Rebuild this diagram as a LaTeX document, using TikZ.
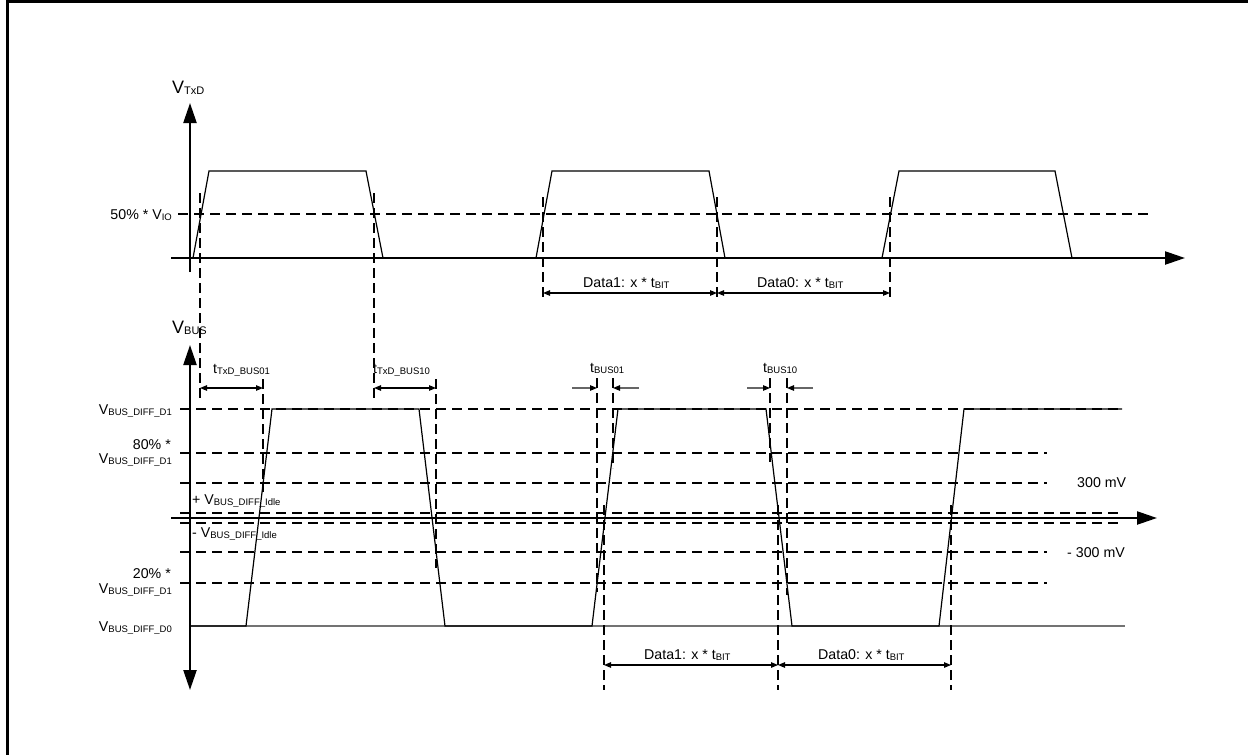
\documentclass[tikz,border=0pt]{standalone}
\usepackage{fontspec}
\setmainfont{Liberation Sans}
\usetikzlibrary{arrows.meta}
\newcommand{\sbx}[1]{\raisebox{-1.3pt}{\fontsize{9.5}{10}\selectfont #1}}
\newcommand{\sbxl}[1]{\raisebox{-1.5pt}{\fontsize{11}{12}\selectfont #1}}
\tikzset{
  ax/.style={line width=2.3pt,-{Triangle[length=20pt,width=13pt]}},
  axx/.style={line width=2.3pt,{Triangle[length=20pt,width=13pt]}-{Triangle[length=20pt,width=13pt]}},
  hd/.style={line width=2.8pt,dash pattern=on 10pt off 6pt},
  vd/.style={line width=2.8pt,dash pattern=on 10pt off 5pt},
  sig/.style={line width=1.2pt},
  dim/.style={line width=1.1pt,{Triangle[length=7pt,width=5.5pt]}-{Triangle[length=7pt,width=5.5pt]}},
  pin/.style={line width=1.1pt,draw=black!60,-{Triangle[length=7pt,width=5.5pt,fill=black,color=black]}},
  lbl/.style={inner sep=0pt,font=\fontsize{14.2}{16}\selectfont}
}
\begin{document}
\begin{tikzpicture}[x=1pt,y=-1pt]
\useasboundingbox (0,0) rectangle (1248,755);
% frame
\draw[line width=2.2pt] (7.5,755) -- (7.5,1.5) -- (1248,1.5);

% ---------------- top panel ----------------
\draw[hd] (178,214) -- (1150,214);
\draw[ax] (190,272) -- (190,103);
\draw[ax] (171,258) -- (1185,258);
\draw[sig] (193,258) -- (209,171) -- (366,171) -- (383,258);
\draw[sig] (536,258) -- (552,171) -- (709,171) -- (725,258);
\draw[sig] (882,258) -- (899,171) -- (1055,171) -- (1072,258);
\node[lbl,anchor=base west] (vtxd) at (172,93) {\fontsize{18}{20}\selectfont V\sbxl{TxD}};
\node[lbl,anchor=base east] (l50) at (172,219) {50\% * V\sbx{IO}};

% vertical dashed lines top
\draw[vd] (200,193) -- (200,400);
\draw[vd] (374,193) -- (374,400);
\coordinate (ta) at (543,197); \coordinate (tb) at (717,197); \coordinate (tc) at (890,197);
\draw[vd] (ta) -- (543,300);
\draw[vd] (tb) -- (717,300);
\draw[vd] (tc) -- (890,300);
\coordinate (da) at (543,293); \coordinate (db) at (717,293); \coordinate (dc) at (890,293);
\draw[dim] (da) -- (db);
\draw[dim] (db) -- (dc);
\node[lbl,anchor=base west] (d1t) at (583,287) {Data1: x * t\sbx{BIT}};
\node[lbl,anchor=base west] (d0t) at (757,287) {Data0: x * t\sbx{BIT}};

% ---------------- bottom panel ----------------
\draw[hd] (180,409) -- (1122,409);
\draw[hd] (180,453) -- (1047,453);
\draw[hd] (180,483) -- (1047,483);
\draw[hd] (180,513) -- (1122,513);
\draw[hd] (180,523) -- (1122,523);
\draw[hd] (180,552) -- (1047,552);
\draw[hd] (180,583) -- (1047,583);
\draw[line width=1.1pt,black!55] (190,626) -- (1125,626);
\draw[axx] (190,690) -- (190,345);
\draw[ax] (171,518) -- (1157,518);
\draw[sig] (190,626) -- (246,626) -- (272,409) -- (419,409) -- (445,626) -- (592,626) -- (618,409) -- (766,409) -- (792,626) -- (939,626) -- (964,409) -- (1122,409);

\node[lbl,anchor=base west] (vbus) at (172,333) {\fontsize{18}{20}\selectfont V\sbxl{BUS}};
\node[lbl,anchor=base east] (ld1) at (172,414) {V\sbx{BUS\_DIFF\_D1}};
\node[lbl,anchor=base east] (l80) at (171,449) {80\% *};
\node[lbl,anchor=base east] (l80b) at (172,463) {V\sbx{BUS\_DIFF\_D1}};
\node[lbl,anchor=base west] (lpi) at (192,504) {+ V\sbx{BUS\_DIFF\_Idle}};
\node[lbl,anchor=base west] (lmi) at (192,537) {- V\sbx{BUS\_DIFF\_Idle}};
\node[lbl,anchor=base east] (l20) at (171,578) {20\% *};
\node[lbl,anchor=base east] (l20b) at (172,593) {V\sbx{BUS\_DIFF\_D1}};
\node[lbl,anchor=base east] (ld0) at (172,631) {V\sbx{BUS\_DIFF\_D0}};
\node[lbl,anchor=base west] (l300) at (1077,487) {300 mV};
\node[lbl,anchor=base west] (lm300) at (1067,557) {- 300 mV};

% delay markers
\draw[vd] (263,379) -- (263,492);
\draw[vd] (436,379) -- (436,568);
\coordinate (p1) at (200,388); \coordinate (p2) at (263,388);
\coordinate (p3) at (374,388); \coordinate (p4) at (436,388);
\draw[dim] (p1) -- (p2);
\draw[dim] (p3) -- (p4);
\node[lbl,anchor=base west] (ltx01) at (213,373) {t\sbx{TxD\_BUS01}};
\node[lbl,anchor=base west] (ltx10) at (373,373) {t\sbx{TxD\_BUS10}};

\draw[vd] (597,378) -- (597,592);
\draw[vd] (613,378) -- (613,468);
\draw[vd] (770,378) -- (770,462);
\draw[vd] (787,378) -- (787,595);
\coordinate (q1) at (572,388); \coordinate (q2) at (597,388);
\coordinate (q3) at (639,388); \coordinate (q4) at (613,388);
\coordinate (q5) at (747,388); \coordinate (q6) at (770,388);
\coordinate (q7) at (813,388); \coordinate (q8) at (787,388);
\draw[pin] (q1) -- (q2);
\draw[pin] (q3) -- (q4);
\draw[pin] (q5) -- (q6);
\draw[pin] (q7) -- (q8);
\node[lbl,anchor=base west] (lb01) at (590,372) {t\sbx{BUS01}};
\node[lbl,anchor=base west] (lb10) at (763,372) {t\sbx{BUS10}};

\draw[vd] (604,505) -- (604,690);
\draw[vd] (778,505) -- (778,690);
\draw[vd] (951,505) -- (951,690);
\coordinate (ea) at (604,665); \coordinate (eb) at (778,665); \coordinate (ec) at (951,665);
\draw[dim] (ea) -- (eb);
\draw[dim] (eb) -- (ec);
\node[lbl,anchor=base west] (d1b) at (644,659) {Data1: x * t\sbx{BIT}};
\node[lbl,anchor=base west] (d0b) at (818,659) {Data0: x * t\sbx{BIT}};
\end{tikzpicture}
\end{document}
